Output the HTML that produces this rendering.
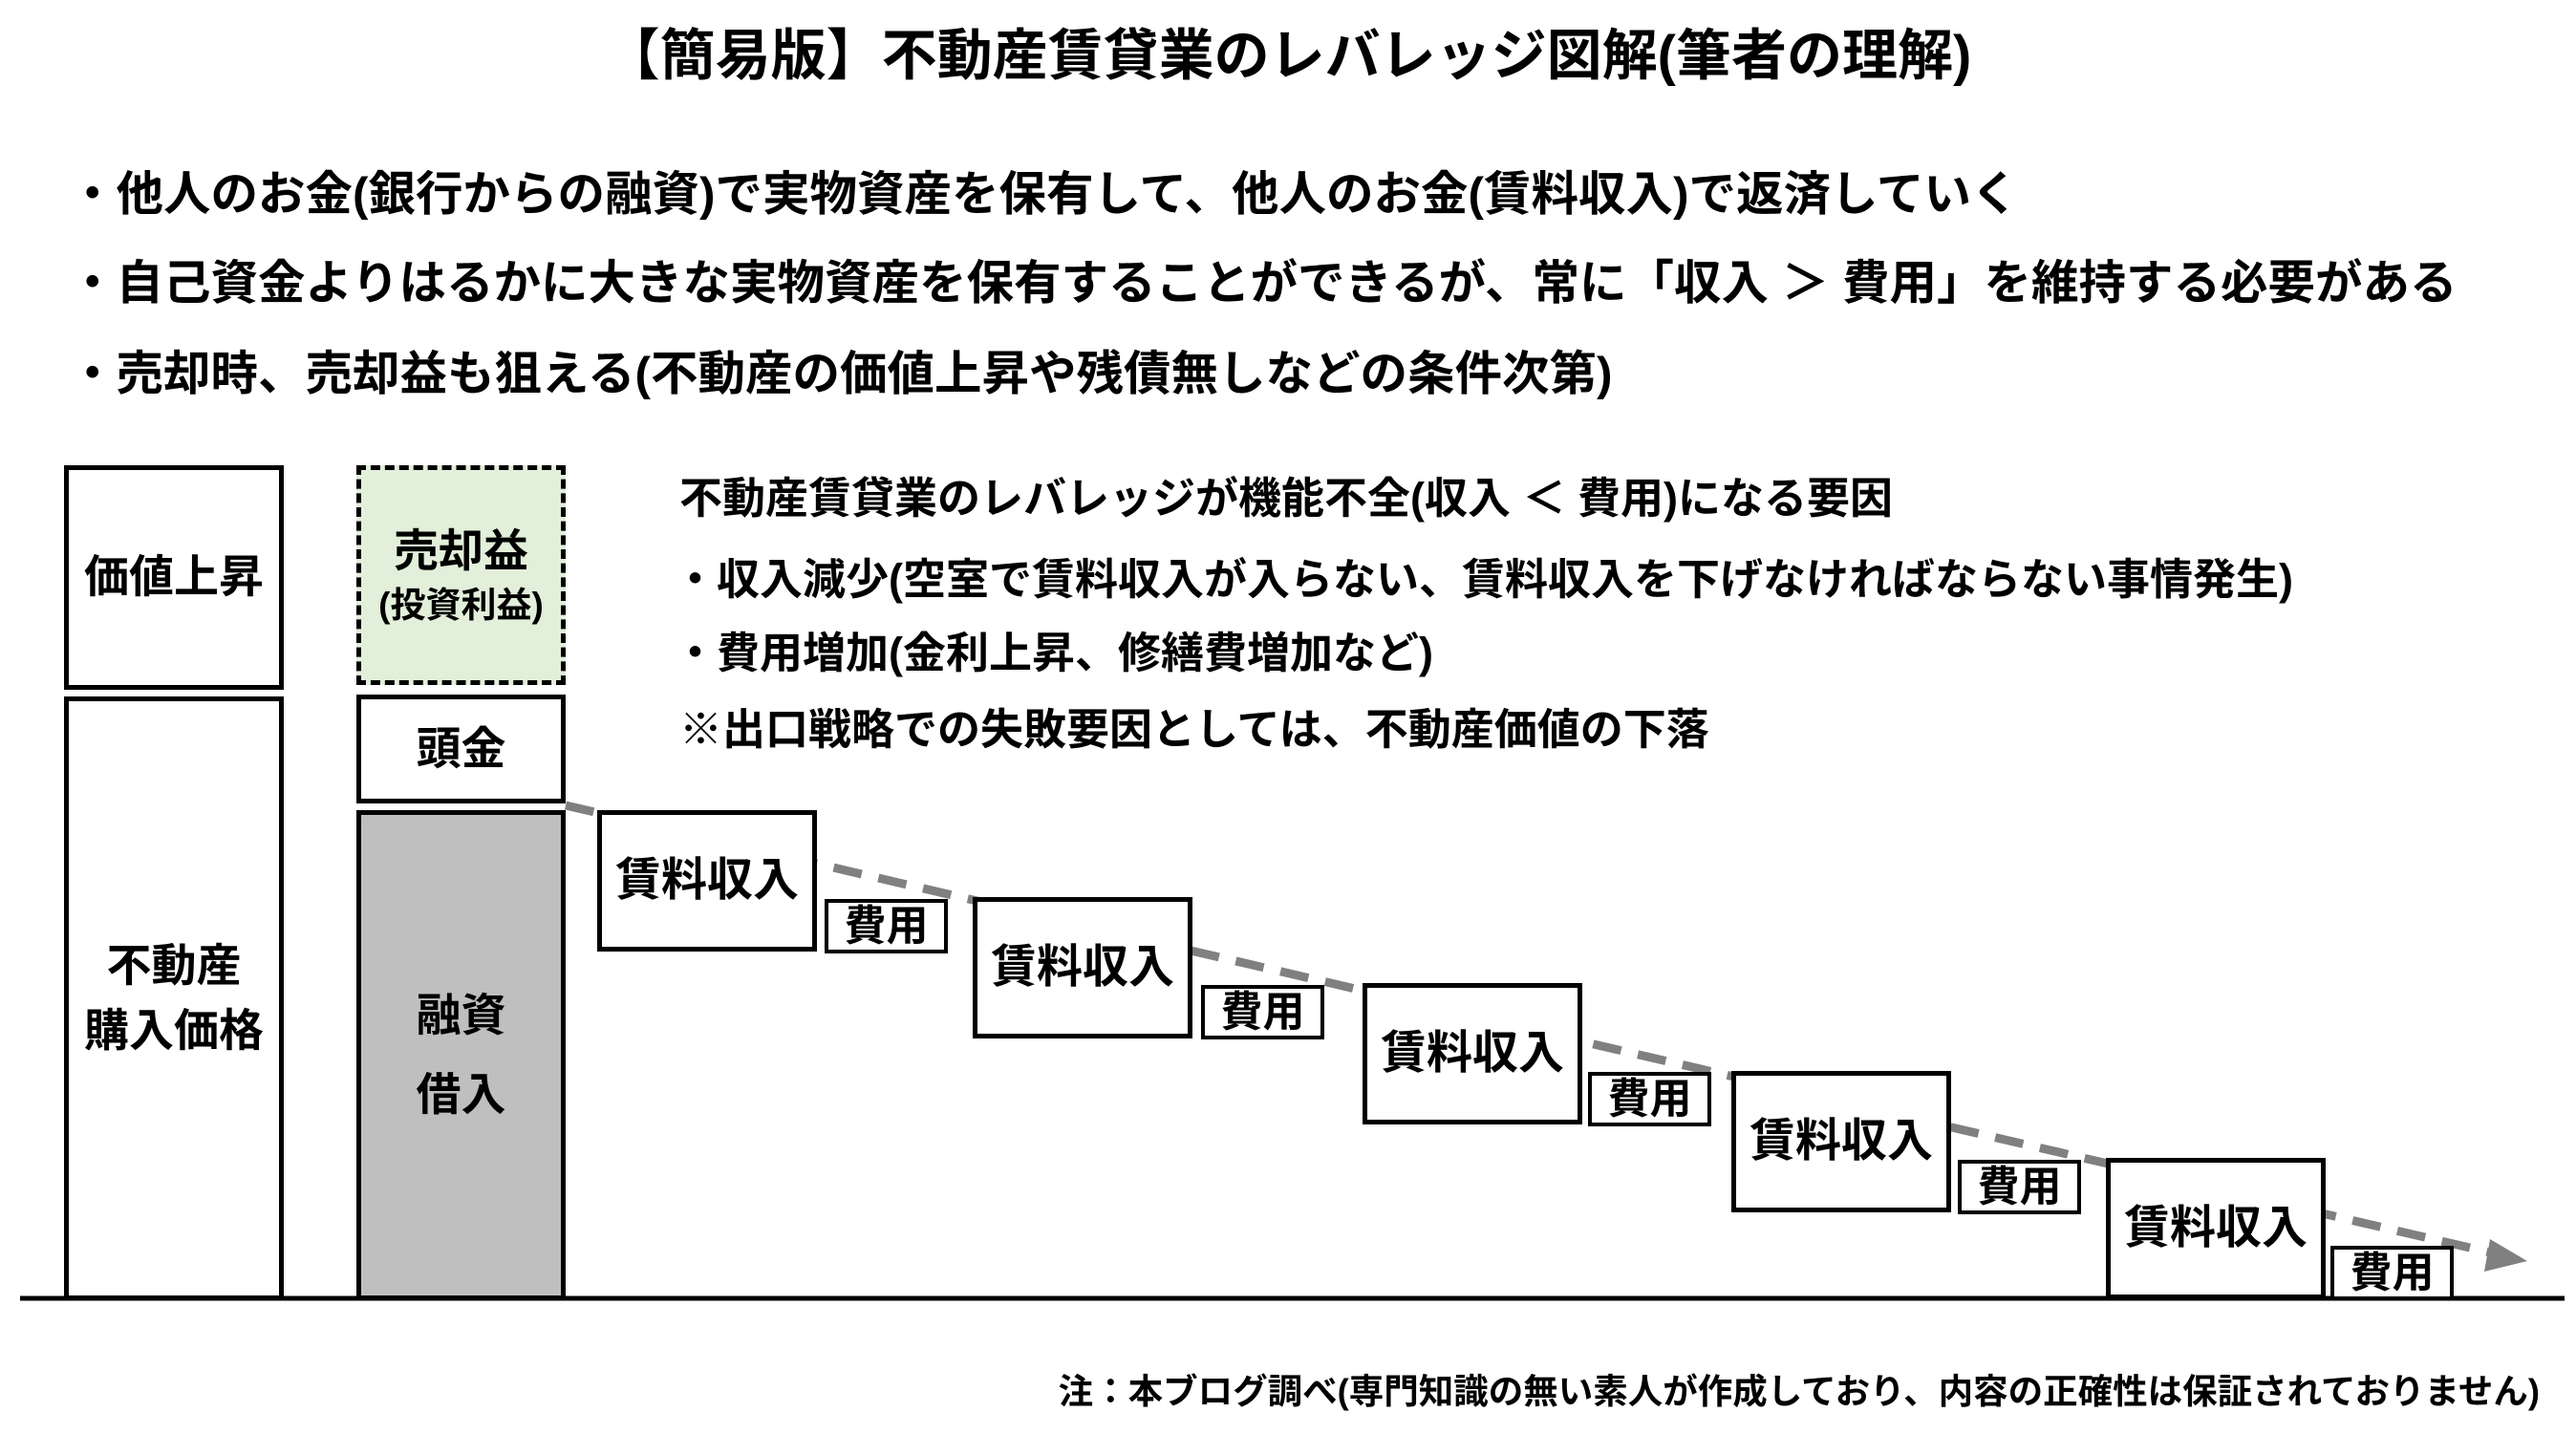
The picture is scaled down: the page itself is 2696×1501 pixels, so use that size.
<!DOCTYPE html>
<html><head><meta charset="utf-8">
<style>
*{margin:0;padding:0;box-sizing:border-box}
body{width:2696px;height:1501px;background:#fff;position:relative;overflow:hidden;font-family:"Liberation Sans","Noto Sans CJK JP",sans-serif;font-weight:bold;color:#000}
.t{position:absolute;white-space:nowrap;line-height:1}
.b{position:absolute;border:5px solid #000;background:#fff;display:flex;flex-direction:column;align-items:center;justify-content:center;text-align:center;font-size:47px;line-height:1.45}
.r{width:230px;height:148px;font-size:48px}
.c{width:129px;height:57px;font-size:44px;border-width:4px}
</style></head><body>
<div class="t" style="left:0;width:2696px;text-align:center;top:30px;font-size:58px">【簡易版】不動産賃貸業のレバレッジ図解(筆者の理解)</div>
<div class="t" style="left:72px;top:179px;font-size:49.5px">・他人のお金(銀行からの融資)で実物資産を保有して、他人のお金(賃料収入)で返済していく</div>
<div class="t" style="left:72px;top:272px;font-size:49.5px">・自己資金よりはるかに大きな実物資産を保有することができるが、常に「収入 ＞ 費用」を維持する必要がある</div>
<div class="t" style="left:72px;top:367px;font-size:49.5px">・売却時、売却益も狙える(不動産の価値上昇や残債無しなどの条件次第)</div>

<div class="t" style="left:711px;top:499px;font-size:45px">不動産賃貸業のレバレッジが機能不全(収入 ＜ 費用)になる要因</div>
<div class="t" style="left:705px;top:584px;font-size:45px">・収入減少(空室で賃料収入が入らない、賃料収入を下げなければならない事情発生)</div>
<div class="t" style="left:705px;top:661px;font-size:45px">・費用増加(金利上昇、修繕費増加など)</div>
<div class="t" style="left:711px;top:741px;font-size:45px">※出口戦略での失敗要因としては、不動産価値の下落</div>

<svg style="position:absolute;left:0;top:0" width="2696" height="1501">
<line x1="592" y1="843" x2="2615" y2="1313" stroke="#808080" stroke-width="9" stroke-dasharray="30,18"/>
<polygon points="2645,1320 2606,1297 2600,1331" fill="#808080"/>
<line x1="21" y1="1359" x2="2684" y2="1359" stroke="#000" stroke-width="5"/>
</svg>

<div class="b" style="left:67px;top:487px;width:230px;height:235px">価値上昇</div>
<div class="b" style="left:67px;top:729px;width:230px;height:632px">不動産<br>購入価格</div>
<div class="b" style="left:373px;top:487px;width:219px;height:230px;background:#e2efda;border-style:dashed;line-height:1.35">売却益<span style="font-size:37px">(投資利益)</span></div>
<div class="b" style="left:373px;top:727px;width:219px;height:114px">頭金</div>
<div class="b" style="left:373px;top:848px;width:219px;height:513px;background:#bfbfbf;line-height:1.75">融資<br>借入</div>

<div class="b r" style="left:625px;top:848px">賃料収入</div>
<div class="b r" style="left:1018px;top:939px">賃料収入</div>
<div class="b r" style="left:1426px;top:1029px">賃料収入</div>
<div class="b r" style="left:1812px;top:1121px">賃料収入</div>
<div class="b r" style="left:2204px;top:1212px">賃料収入</div>
<div class="b c" style="left:863px;top:941px">費用</div>
<div class="b c" style="left:1257px;top:1031px">費用</div>
<div class="b c" style="left:1662px;top:1122px">費用</div>
<div class="b c" style="left:2049px;top:1214px">費用</div>
<div class="b c" style="left:2439px;top:1304px">費用</div>

<div class="t" style="right:38px;top:1439px;font-size:36.5px">注：本ブログ調べ(専門知識の無い素人が作成しており、内容の正確性は保証されておりません)</div>
</body></html>
